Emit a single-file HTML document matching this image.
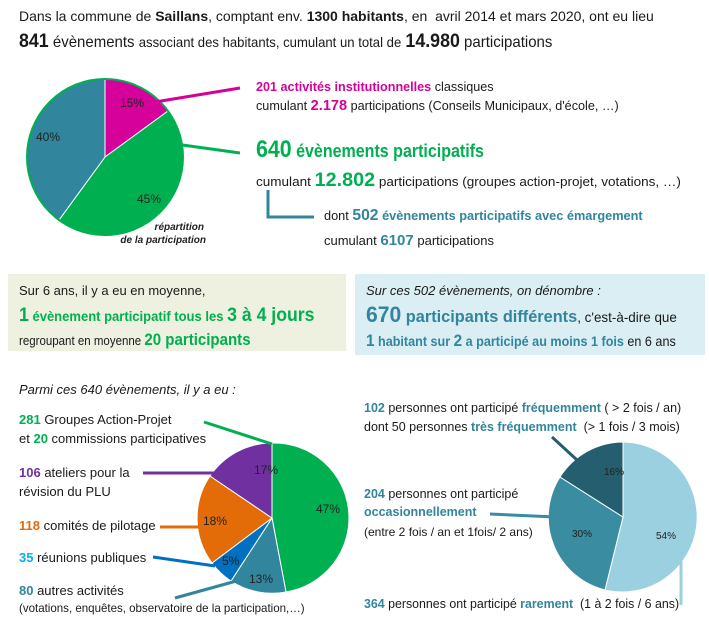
<!DOCTYPE html>
<html><head><meta charset="utf-8"><style>
body{margin:0;width:709px;height:626px;background:#fff;position:relative;overflow:hidden;font-family:"Liberation Sans Narrow","Liberation Sans",sans-serif;color:#1a1a1a}
.t{position:absolute;white-space:nowrap;font-size:13px;transform-origin:0 50%}
b{font-weight:bold}
.pk{color:#d6009a}.gr{color:#00b050}.tl{color:#31859c}.pu{color:#7030a0}.or{color:#e36c09}.bl{color:#00b0f0}
svg{position:absolute;left:0;top:0}
</style></head><body>
<div style="position:absolute;left:8px;top:274px;width:338px;height:77px;background:#eef0e0"></div>
<div style="position:absolute;left:355px;top:274px;width:350px;height:81px;background:#dbeef3"></div>
<svg width="709" height="626">
<g stroke="#fff" stroke-width="1">
<path d="M105,157 L105,79 A78,78 0 0 1 168,111 Z" fill="#d6009a"/>
<path d="M105,157 L168,111 A78,78 0 0 1 59,220 Z" fill="#00b050"/>
<path d="M105,157 L59,220 A78,78 0 0 1 105,79 Z" fill="#31859c"/>
</g>
<circle cx="105" cy="157" r="78" fill="none" stroke="#00b050" stroke-width="2"/>
<line x1="155" y1="102" x2="240" y2="88" stroke="#d6009a" stroke-width="3"/>
<line x1="168" y1="143" x2="240" y2="153" stroke="#00b050" stroke-width="3"/>
<polyline points="268,190 268,217 314,217" fill="none" stroke="#31859c" stroke-width="3"/>
<g stroke="#fff" stroke-width="1">
<path d="M272,518 L272,443 A75,75 0 0 1 286,592 Z" fill="#00b050"/>
<path d="M272,518 L286,592 A75,75 0 0 1 231,581 Z" fill="#31859c"/>
<path d="M272,518 L231,581 A75,75 0 0 1 212,563 Z" fill="#0070c0"/>
<path d="M272,518 L212,563 A75,75 0 0 1 210,476 Z" fill="#e36c09"/>
<path d="M272,518 L210,476 A75,75 0 0 1 272,443 Z" fill="#7030a0"/>
<path d="M623,517 L623,442 A75,75 0 1 1 605,590 Z" fill="#9bd0e0"/>
<path d="M623,517 L605,590 A75,75 0 0 1 560,477 Z" fill="#3a8ca0"/>
<path d="M623,517 L560,477 A75,75 0 0 1 623,442 Z" fill="#245e6f"/>
</g>
<line x1="204" y1="422" x2="272" y2="444" stroke="#00b050" stroke-width="3"/>
<line x1="143" y1="473" x2="228" y2="473" stroke="#7030a0" stroke-width="3"/>
<line x1="160" y1="527" x2="216" y2="527" stroke="#e36c09" stroke-width="3"/>
<line x1="153" y1="557" x2="215" y2="566" stroke="#0070c0" stroke-width="3"/>
<line x1="175" y1="598" x2="240" y2="580" stroke="#31859c" stroke-width="3"/>
<line x1="552" y1="437" x2="577" y2="460" stroke="#245e6f" stroke-width="3"/>
<line x1="490" y1="514" x2="556" y2="517" stroke="#3a8ca0" stroke-width="3"/>
<line x1="681" y1="560" x2="681" y2="605" stroke="#9bd0e0" stroke-width="3"/>
<g font-family="Liberation Sans Narrow, Liberation Sans, sans-serif" font-size="12" fill="#222">
<text x="120" y="107">15%</text><text x="36" y="141">40%</text><text x="137" y="203">45%</text>
<text x="254" y="474">17%</text><text x="316" y="513">47%</text><text x="203" y="525">18%</text>
<text x="222" y="565">5%</text><text x="249" y="583">13%</text>
<text x="604" y="475" font-size="10">16%</text><text x="572" y="537" font-size="10">30%</text><text x="656" y="539" font-size="10">54%</text>
</g>
<g font-family="Liberation Sans Narrow, Liberation Sans, sans-serif" font-size="10" font-style="italic" font-weight="bold" fill="#222" text-anchor="end">
<text x="204" y="230">répartition</text><text x="206" y="243">de la participation</text>
</g>
</svg>
<div class="t" style="left:19px;top:8px;font-size:14px">Dans la commune de <b>Saillans</b>, comptant env. <b>1300 habitants</b>, en &nbsp;avril 2014 et mars 2020, ont eu lieu</div>
<div class="t" style="left:19px;top:31px;font-size:16px;transform:scaleX(0.937)"><b style="font-size:19px">841</b> évènements <span style="font-size:14px">associant des habitants, cumulant un total de</span> <b style="font-size:19px">14.980</b> participations</div>
<div class="t" style="left:256px;top:79px;transform:scaleX(0.97)"><b class="pk">201 activités institutionnelles</b> classiques</div>
<div class="t" style="left:256px;top:97px;transform:scaleX(0.97)">cumulant <b class="pk" style="font-size:15px">2.178</b> participations (Conseils Municipaux, d'école, …)</div>
<div class="t gr" style="left:256px;top:136px;font-size:18px;transform:scaleX(0.89)"><b style="font-size:24px">640</b> <b>évènements participatifs</b></div>
<div class="t" style="left:256px;top:170px;transform:scaleX(1.04)">cumulant <b class="gr" style="font-size:19px">12.802</b> participations (groupes action-projet, votations, …)</div>
<div class="t" style="left:324px;top:207px;transform:scaleX(0.98)">dont <b class="tl" style="font-size:16px">502</b> <b class="tl">évènements participatifs avec émargement</b></div>
<div class="t" style="left:324px;top:232px">cumulant <b class="tl" style="font-size:15px">6107</b> participations</div>
<div class="t" style="left:19px;top:283px">Sur 6 ans, il y a eu en moyenne,</div>
<div class="t gr" style="left:19px;top:305px;font-size:14px;transform:scaleX(0.93)"><b style="font-size:19px">1</b> <b>évènement participatif tous les</b> <b style="font-size:19px">3 à 4 jours</b></div>
<div class="t" style="left:19px;top:330px;transform:scaleX(0.885)">regroupant en moyenne <b class="gr" style="font-size:17px">20 participants</b></div>
<div class="t" style="left:366px;top:283px;font-style:italic">Sur ces 502 évènements, on dénombre :</div>
<div class="t tl" style="left:366px;top:302px;font-size:17px;transform:scaleX(0.96)"><b style="font-size:22px">670</b> <b>participants différents</b><span style="color:#1a1a1a;font-size:14px">, c'est-à-dire que</span></div>
<div class="t" style="left:366px;top:331px;font-size:14px;transform:scaleX(0.9)"><b class="tl" style="font-size:17px">1</b> <b class="tl">habitant sur</b> <b class="tl" style="font-size:17px">2</b> <b class="tl">a participé au moins 1 fois</b> en 6 ans</div>
<div class="t" style="left:19px;top:382px;font-style:italic">Parmi ces 640 évènements, il y a eu :</div>
<div class="t" style="left:19px;top:412px"><b class="gr">281</b> Groupes Action-Projet</div>
<div class="t" style="left:19px;top:431px">et <b class="gr">20</b> commissions participatives</div>
<div class="t" style="left:19px;top:465px"><b class="pu">106</b> ateliers pour la</div>
<div class="t" style="left:19px;top:484px">révision du PLU</div>
<div class="t" style="left:19px;top:518px"><b class="or">118</b> comités de pilotage</div>
<div class="t" style="left:19px;top:550px"><b class="bl">35</b> réunions publiques</div>
<div class="t" style="left:19px;top:583px"><b class="tl">80</b> autres activités</div>
<div class="t" style="left:19px;top:601px;font-size:12px;transform:scaleX(0.96)">(votations, enquêtes, observatoire de la participation,…)</div>
<div class="t" style="left:364px;top:401px;font-size:12.5px"><b class="tl">102</b> personnes ont participé <b class="tl">fréquemment</b> ( &gt; 2 fois / an)</div>
<div class="t" style="left:364px;top:420px;font-size:12.5px">dont 50 personnes <b class="tl">très fréquemment</b> &nbsp;(&gt; 1 fois / 3 mois)</div>
<div class="t" style="left:364px;top:487px;font-size:12.5px"><b class="tl">204</b> personnes ont participé</div>
<div class="t" style="left:364px;top:505px;font-size:12.5px"><b class="tl">occasionnellement</b></div>
<div class="t" style="left:364px;top:525px;font-size:12px">(entre 2 fois / an et 1fois/ 2 ans)</div>
<div class="t" style="left:364px;top:597px;font-size:12.5px;transform:scaleX(0.99)"><b class="tl">364</b> personnes ont participé <b class="tl">rarement</b> &nbsp;(1 à 2 fois / 6 ans)</div>
</body></html>
